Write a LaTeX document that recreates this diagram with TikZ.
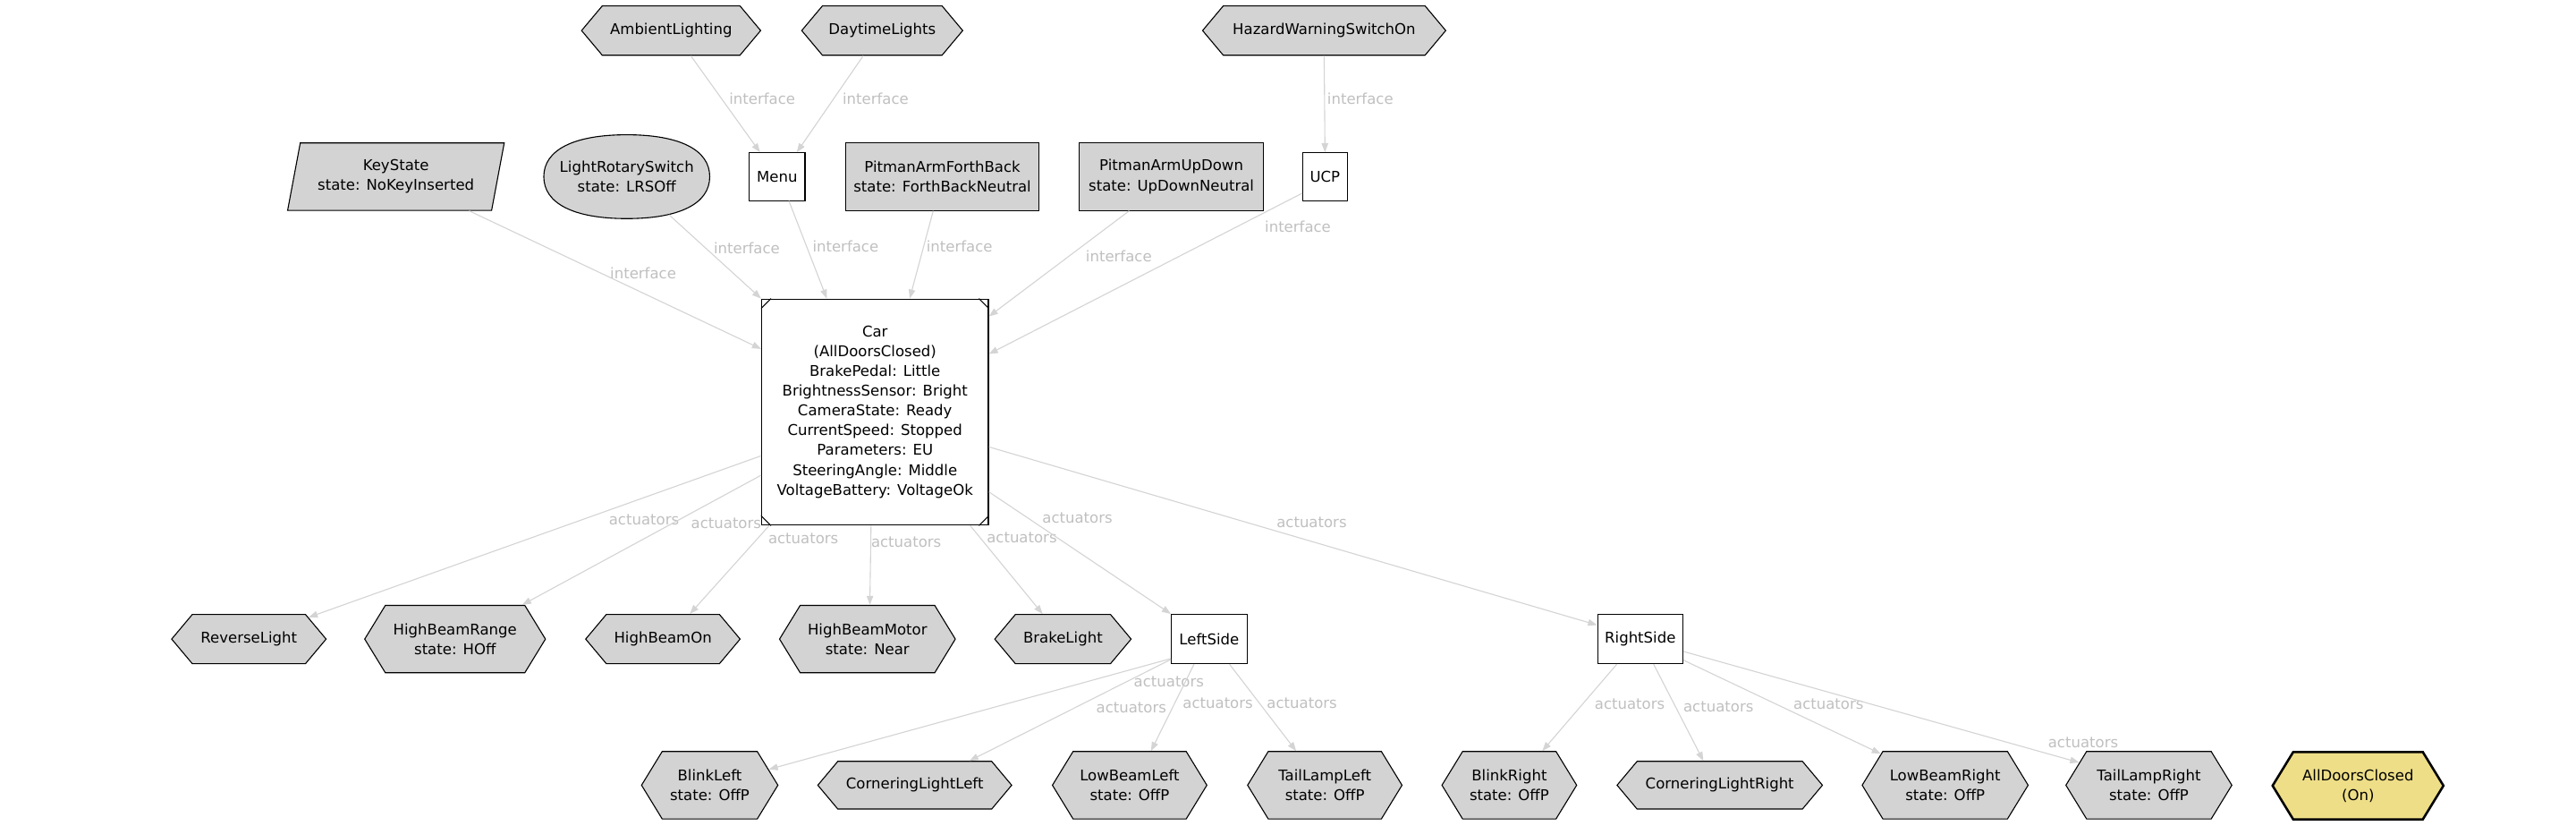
\documentclass[tikz,border=0pt]{standalone}
\usepackage{fontspec}
\setmainfont{DejaVu Sans}
\usepackage{tikz}
\usetikzlibrary{shapes.geometric, shapes.symbols, arrows.meta}
\definecolor{mygray}{RGB}{211,211,211}
\definecolor{myedge}{RGB}{212,212,212}
\definecolor{mylabel}{RGB}{192,192,192}
\definecolor{mykhaki}{RGB}{238,222,135}
\tikzset{
  hexone/.style={signal, signal to=west and east, signal pointer angle=100,
    draw=black, fill=mygray, minimum height=30pt, inner sep=0pt,
    align=center, font=\fontsize{9}{12}\selectfont, line width=0.6pt},
  hextwo/.style={hexone, signal pointer angle=117, minimum height=41pt},
  boxnode/.style={rectangle, draw=black, fill=white, inner sep=0pt,
    align=center, font=\fontsize{9}{12}\selectfont, line width=0.6pt},
  graybox/.style={boxnode, fill=mygray, minimum height=41pt},
  arrow/.style={-{Triangle[length=5.5pt,width=4pt]}, color=myedge, line width=0.6pt},
  lbl/.style={text=mylabel, font=\fontsize{9}{11}\selectfont, inner sep=0pt}
}

\begin{document}
\begin{tikzpicture}[x=1pt, y=-1pt]
  \path[fill=white, use as bounding box] (0,0) rectangle (1568,502);

  \node[hexone, minimum width=109pt] (ambient) at (408.5,18.6) {AmbientLighting};
  \node[hexone, minimum width=98pt] (daytime) at (537,18.6) {DaytimeLights};
  \node[hexone, minimum width=148pt] (hazard) at (806,18.6) {HazardWarningSwitchOn};

  \node[trapezium, trapezium left angle=73, trapezium right angle=107,
    trapezium stretches=true, draw=black, fill=mygray, line width=0.6pt,
    minimum width=132pt, minimum height=41pt, inner sep=0pt, align=center,
    font=\fontsize{9}{12}\selectfont] (keystate) at (241,107.5) {KeyState\\state: NoKeyInserted};
  \filldraw[fill=mygray, line width=0.6pt] (432,107.5)
    .. controls (432,91.2) and (413.8,82) .. (381.5,82)
    .. controls (349.2,82) and (331,91.2) .. (331,107.5)
    .. controls (331,123.8) and (349.2,133) .. (381.5,133)
    .. controls (413.8,133) and (432,123.8) .. cycle;
  \node[boxnode, ellipse, draw=none, fill=none, minimum width=101pt, minimum height=51pt] (lrs) at (381.5,107.5) {LightRotarySwitch\\state: LRSOff};
  \node[boxnode, minimum width=34pt, minimum height=29pt] (menu) at (473,107.5) {Menu};
  \node[graybox, minimum width=118pt] (pafb) at (573.6,107.5) {PitmanArmForthBack\\state: ForthBackNeutral};
  \node[graybox, minimum width=112pt] (paud) at (713,107.5) {PitmanArmUpDown\\state: UpDownNeutral};
  \node[boxnode, minimum width=27pt, minimum height=29pt] (ucp) at (806.5,107.5) {UCP};

  \node[boxnode, minimum width=138pt, minimum height=137.5pt] (car) at (532.6,250.7)
    {Car\\(AllDoorsClosed)\\BrakePedal: Little\\BrightnessSensor: Bright\\CameraState: Ready\\CurrentSpeed: Stopped\\Parameters: EU\\SteeringAngle: Middle\\VoltageBattery: VoltageOk};
  \draw[line width=0.6pt] ([yshift=-6pt]car.north west) -- ([xshift=6pt]car.north west);
  \draw[line width=0.6pt] ([yshift=-6pt]car.north east) -- ([xshift=-6pt]car.north east);
  \draw[line width=0.6pt] ([yshift=6pt]car.south west) -- ([xshift=6pt]car.south west);
  \draw[line width=0.6pt] ([yshift=6pt]car.south east) -- ([xshift=-6pt]car.south east);

  \node[hexone, minimum width=94pt] (reverse) at (151.5,388.8) {ReverseLight};
  \node[hextwo, minimum width=110pt] (hbrange) at (277,388.8) {HighBeamRange\\state: HOff};
  \node[hexone, minimum width=94pt] (hbon) at (403.5,388.8) {HighBeamOn};
  \node[hextwo, minimum width=107pt] (hbmotor) at (528,388.8) {HighBeamMotor\\state: Near};
  \node[hexone, minimum width=83pt] (brake) at (647,388.8) {BrakeLight};
  \node[boxnode, minimum width=46pt, minimum height=30pt] (leftside) at (736,388.8) {LeftSide};
  \node[boxnode, minimum width=52pt, minimum height=30pt] (rightside) at (998.4,388.8) {RightSide};

  \node[hextwo, minimum width=83pt] (blinkl) at (432,477.7) {BlinkLeft\\state: OffP};
  \node[hexone, minimum width=118pt, minimum height=29pt] (cornl) at (556.8,477.7) {CorneringLightLeft};
  \node[hextwo, minimum width=94pt] (lowl) at (687.6,477.7) {LowBeamLeft\\state: OffP};
  \node[hextwo, minimum width=94pt] (taill) at (806.4,477.7) {TailLampLeft\\state: OffP};
  \node[hextwo, minimum width=82pt] (blinkr) at (918.7,477.7) {BlinkRight\\state: OffP};
  \node[hexone, minimum width=125pt, minimum height=29pt] (cornr) at (1046.8,477.7) {CorneringLightRight};
  \node[hextwo, minimum width=101pt] (lowr) at (1184,477.7) {LowBeamRight\\state: OffP};
  \node[hextwo, minimum width=101pt] (tailr) at (1308,477.7) {TailLampRight\\state: OffP};
  \node[hextwo, minimum width=104pt, fill=mykhaki, line width=1.4pt] (doors) at (1435.3,478) {AllDoorsClosed\\(On)};

  \draw[arrow] (ambient.-52.5) -- (menu.125.7) node[lbl] at (464,60) {interface};
  \draw[arrow] (daytime.-127.9) -- (menu.51.2) node[lbl] at (533,60) {interface};
  \draw[arrow] (hazard.south) -- (ucp.north) node[lbl] at (828,60) {interface};
  \draw[arrow] (keystate.-25.6) -- (car.151.3) node[lbl] at (391.5,166) {interface};
  \draw[arrow] (lrs.-42) -- (car.north west) node[lbl] at (454.6,151) {interface};
  \draw[arrow] (menu.-64.2) -- (car.113.4) node[lbl] at (514.7,150) {interface};
  \draw[arrow] (pafb.-105.8) -- (car.73.8) node[lbl] at (584,150) {interface};
  \draw[arrow] (paud.-141.7) -- (car.40.2) node[lbl] at (681,156) {interface};
  \draw[arrow] (ucp.-144) -- (car.27.2) node[lbl] at (790,138) {interface};

  \draw[arrow] (car.-159.4) -- (reverse.20.5) node[lbl] at (392,316) {actuators};
  \draw[arrow] (car.-151.6) -- (hbrange.27.5) node[lbl] at (442,318.5) {actuators};
  \draw[arrow] (car.-133.7) -- (hbon.43.9) node[lbl] at (489,327.6) {actuators};
  \draw[arrow] (car.-92.6) -- (hbmotor.86) node[lbl] at (551.6,330) {actuators};
  \draw[arrow] (car.-50.1) -- (brake.129.1) node[lbl] at (622,327.3) {actuators};
  \draw[arrow] (car.-35.2) -- (leftside.north west) node[lbl] at (655.8,315.4) {actuators};
  \draw[arrow] (car.-17.2) -- (rightside.162) node[lbl] at (798.4,317.6) {actuators};

  \draw[arrow] (leftside.-153.6) -- (blinkl.15) node[lbl] at (688.6,430.5) {actuators};
  \draw[arrow] (leftside.-152) -- (cornl.24.6) node[lbl] at (711.5,415) {actuators};
  \draw[arrow] (leftside.-121.8) -- (lowl.58.7) node[lbl] at (741.3,428) {actuators};
  \draw[arrow] (leftside.-51.3) -- (taill.130.5) node[lbl] at (792.5,428) {actuators};

  \draw[arrow] (rightside.-133) -- (blinkr.46.3) node[lbl] at (992,428.3) {actuators};
  \draw[arrow] (rightside.-62.2) -- (cornr.124.4) node[lbl] at (1046,430) {actuators};
  \draw[arrow] (rightside.-26.8) -- (lowr.154.8) node[lbl] at (1113,428.3) {actuators};
  \draw[arrow] (rightside.-16.4) -- (tailr.162.2) node[lbl] at (1268,452) {actuators};
\end{tikzpicture}
\end{document}
